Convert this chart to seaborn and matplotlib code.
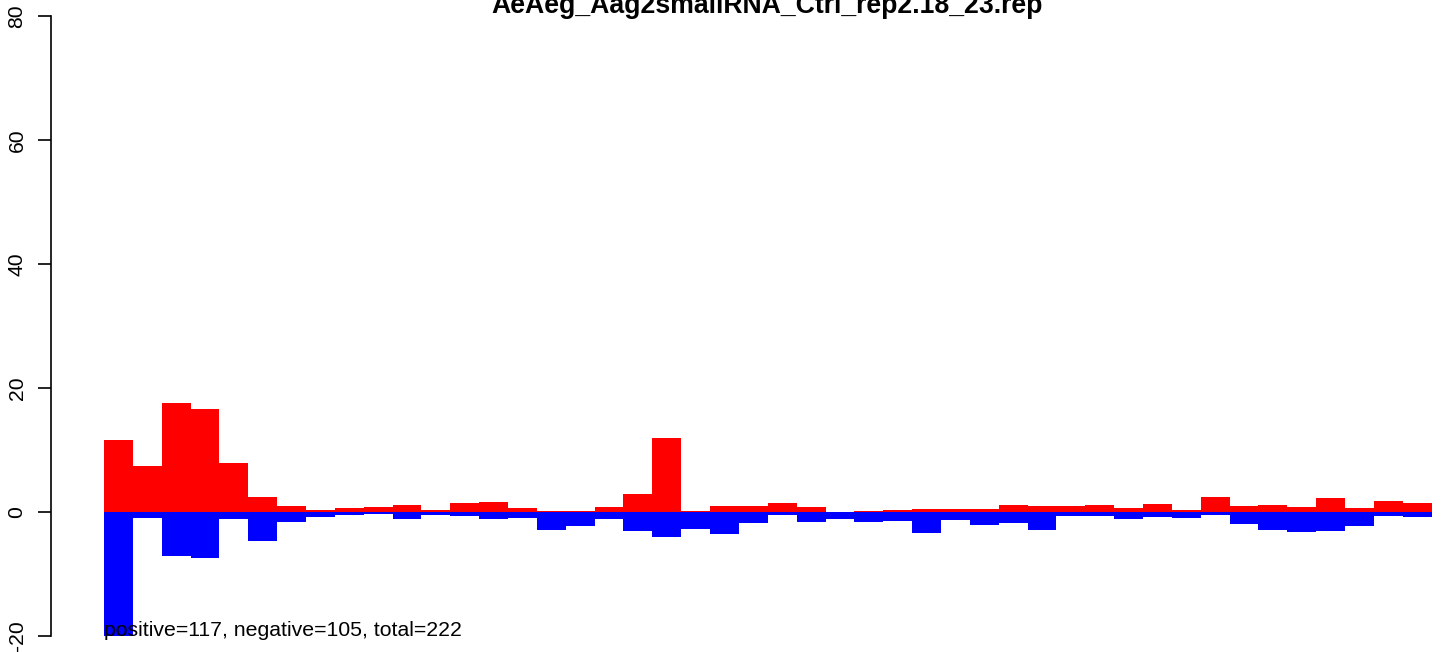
import matplotlib
matplotlib.use("Agg")
import matplotlib.pyplot as plt
import seaborn as sns
import pandas as pd

# Per-position read counts (18-23 nt small RNAs), sense vs antisense
positions = list(range(1, 47))
positive_vals = [11.6, 7.4, 17.6, 16.6, 7.96, 2.47, 0.97, 0.32, 0.70, 0.86,
                 1.13, 0.32, 1.5, 1.61, 0.70, 0.22, 0.22, 0.86, 2.9, 12.0,
                 0.22, 1.02, 1.02, 1.5, 0.86, 0.0, 0.22, 0.38, 0.54, 0.54,
                 0.54, 1.13, 0.97, 0.97, 1.13, 0.65, 1.29, 0.32, 2.42, 0.97,
                 1.13, 0.81, 2.26, 0.65, 1.77, 1.45]
negative_vals = [-20.0, -1.02, -7.04, -7.37, -1.18, -4.62, -1.56, -0.75, -0.48, -0.32,
                 -1.08, -0.48, -0.65, -1.08, -0.91, -2.9, -2.2, -1.08, -3.01, -3.98,
                 -2.69, -3.55, -1.72, -0.43, -1.61, -1.08, -1.61, -1.4, -3.33, -1.24,
                 -2.04, -1.72, -2.85, -0.59, -0.59, -1.08, -0.75, -0.91, -0.43, -1.88,
                 -2.85, -3.17, -3.01, -2.2, -0.59, -0.75]
y_ticks = [-20, 0, 20, 40, 60, 80]
title_text = "AeAeg_Aag2smallRNA_Ctrl_rep2.18_23.rep"
n_positive, n_negative = 117, 105
n_total = n_positive + n_negative

df = pd.DataFrame({"pos": positions, "positive": positive_vals, "negative": negative_vals})

sns.set_style("white")
plt.rcParams["font.family"] = ["Liberation Sans", "DejaVu Sans"]
plt.rcParams["text.color"] = "black"
plt.rcParams["ytick.color"] = "black"
plt.rcParams["ytick.labelcolor"] = "black"

fig = plt.figure(figsize=(14.44, 6.52), dpi=100)
ax = fig.add_axes([0, 0, 1, 1])
ax.set_facecolor("white")

sns.barplot(data=df, x="pos", y="positive", color="#FF0000", saturation=1,
            width=1.0, linewidth=0, errorbar=None, ax=ax)
sns.barplot(data=df, x="pos", y="negative", color="#0000FF", saturation=1,
            width=1.0, linewidth=0, errorbar=None, ax=ax)

ax.set_xlim(-4.1036, 45.93)
ax.set_ylim(-22.58, 82.58)

for side in ["top", "right", "bottom"]:
    ax.spines[side].set_visible(False)
ax.spines["left"].set_position(("data", -2.347))
ax.spines["left"].set_bounds(-20, 80)
ax.spines["left"].set_linewidth(1.2)
ax.spines["left"].set_color("black")

ax.set_xticks([])
ax.set_xlabel("")
ax.set_ylabel("")
ax.set_yticks(y_ticks)
ax.set_yticklabels([str(t) for t in y_ticks])
ax.tick_params(axis="y", left=True, length=9.4, width=1.2, pad=8, labelsize=15.2,
               labelrotation=90, colors="black", labelcolor="black")
for lbl in ax.get_yticklabels():
    lbl.set_va("center")

fig.text(767.5 / 1444, 1 - 12.7 / 652, title_text, ha="center", va="baseline",
         fontsize=19.2, fontweight="bold", color="black")

ax.text(-0.5, -20, f"positive={n_positive}, negative={n_negative}, total={n_total}",
        ha="left", va="baseline", fontsize=15.3, color="black")

fig.savefig("out.png", dpi=100, facecolor="white")
